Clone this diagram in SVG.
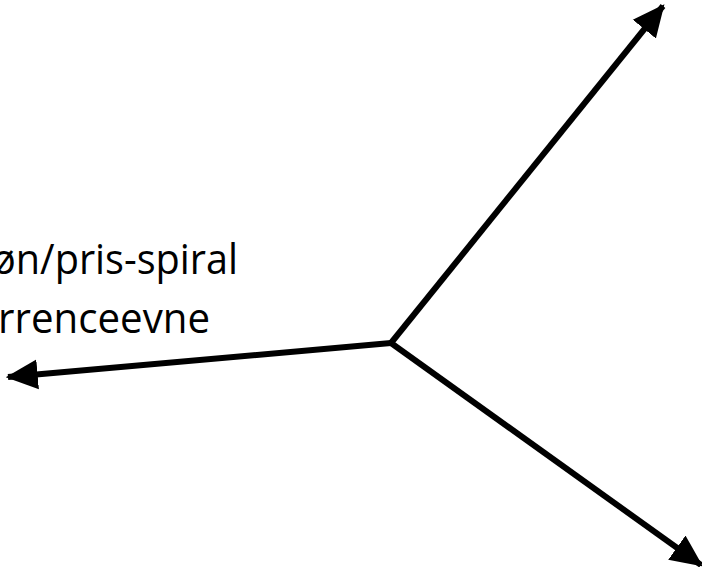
<svg xmlns="http://www.w3.org/2000/svg" width="702" height="567" viewBox="0 0 702 567">
<style>
.lbl{font-family:"Open Sans","Liberation Sans",sans-serif;font-size:42px;fill:#000}
.ax{stroke:#000;stroke-width:6;fill:none}
</style>
<defs>
<marker id="ah" markerUnits="userSpaceOnUse" markerWidth="32" markerHeight="32" viewBox="0 0 28 26" refX="26" refY="13" orient="auto">
<path d="M0,0 L28,13 L0,26 Z" fill="#000"/>
</marker>
</defs>
<rect width="702" height="567" fill="#fff"/>
<g id="labels">
<text class="lbl" x="238" y="274" text-anchor="end" textLength="246" lengthAdjust="spacingAndGlyphs">øn/pris-spiral</text>
<text class="lbl" x="210" y="333" text-anchor="end" textLength="212" lengthAdjust="spacingAndGlyphs">rrenceevne</text>
</g>
<g id="connectors">
<line class="ax" x1="391" y1="343" x2="663" y2="6" marker-end="url(#ah)"/>
<line class="ax" x1="391" y1="343" x2="8" y2="377" marker-end="url(#ah)"/>
<line class="ax" x1="391" y1="343" x2="701" y2="565" marker-end="url(#ah)"/>
</g>
</svg>
